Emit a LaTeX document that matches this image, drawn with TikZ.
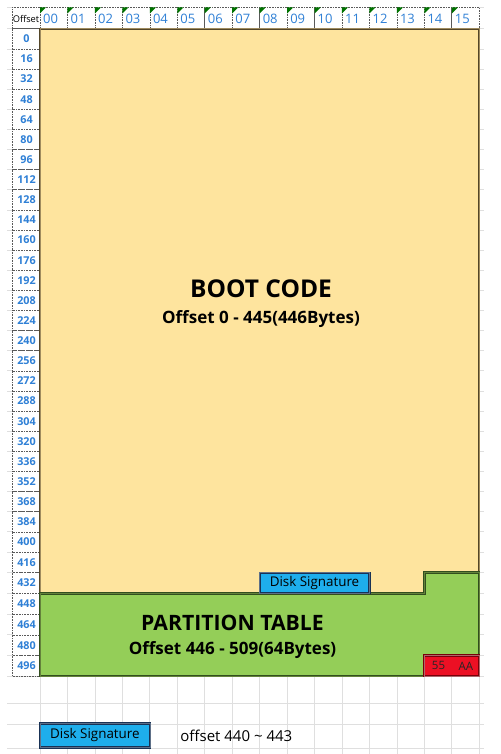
\documentclass[tikz,border=0pt]{standalone}
\usepackage{fontspec}
\IfFontExistsTF{Noto Sans Bold}
    {\setmainfont{Noto Sans}[BoldFont={Noto Sans Bold}]}
    {\IfFontExistsTF{Open Sans Bold}
        {\setmainfont{Open Sans}[BoldFont={Open Sans Bold}]}
        {\setmainfont{Noto Sans}[BoldFont={Noto Sans}, BoldFeatures={FakeBold=2.5}]}}
\usepackage{xcolor}
\usetikzlibrary{positioning}

\definecolor{hdrblue}{RGB}{47,128,214}
\definecolor{bootyellow}{RGB}{254,228,158}
\definecolor{bootedge}{RGB}{84,70,40}
\definecolor{bootmid}{RGB}{160,140,95}
\definecolor{ptgreen}{RGB}{148,206,88}
\definecolor{ptedge}{RGB}{50,78,30}
\definecolor{ptmid}{RGB}{100,130,60}
\definecolor{sigblue}{RGB}{30,174,236}
\definecolor{sigedge}{RGB}{25,50,85}
\definecolor{magicred}{RGB}{236,16,36}
\definecolor{magicedge}{RGB}{120,0,10}

\begin{document}
\begin{tikzpicture}[x=1pt, y=-1pt,
        declare function={cx(\c)=40+27.45*\c; ry(\r)=(\r<27) ? 28.8+20.12*\r : 551.9+20.73*(\r-26);},
        gridline/.style={draw=gray!25, line width=0.7pt},
        cellbox/.style={draw=black!65, densely dotted, line width=0.6pt, fill=white},
        flagtri/.style={fill=green!45!black},
        colnum/.style={font=\fontsize{13}{13}\selectfont, text=hdrblue, anchor=west, inner sep=0pt},
        rownum/.style={font=\fontsize{10.8}{11}\selectfont\bfseries, text=hdrblue, inner sep=0pt},
        bootarea/.style={fill=bootyellow, draw=bootedge, double=bootmid, double distance=0.8pt, line width=0.8pt},
        ptarea/.style={fill=ptgreen, draw=ptedge, double=ptmid, double distance=0.8pt, line width=0.8pt},
        sigbox/.style={rectangle, fill=sigblue, draw=sigedge, double=sigedge!70, double distance=0.6pt, line width=0.8pt,
            minimum width=109.8pt, inner sep=0pt, font=\fontsize{13.4}{14}\selectfont},
        magicbox/.style={rectangle, fill=magicred, draw=magicedge, double=magicedge!60, double distance=0.6pt, line width=0.8pt,
            minimum width=54.9pt, minimum height=20.7pt, inner sep=0pt},
        magictext/.style={inner sep=0pt, font=\fontsize{11.5}{12}\selectfont, text=black!85},
        bigtitle/.style={font=\fontsize{24.5}{25}\selectfont\bfseries, inner sep=0pt},
        subtitle/.style={font=\fontsize{17}{18}\selectfont\bfseries, inner sep=0pt}
    ]
    \useasboundingbox[fill=white] (0,0) rectangle (500,754);

    % Sheet grid
    \foreach \r in {0,...,32} {
        \draw[gridline] (7,{ry(\r)}) -- (484,{ry(\r)});
    }
    \foreach \yy in {7.5,703,724,748} {
        \draw[gridline] (7,\yy) -- (484,\yy);
    }
    \foreach \c in {0,...,16} {
        \draw[gridline] ({cx(\c)},676) -- ({cx(\c)},754);
    }

    % Header row
    \draw[cellbox] (12.5,7.5) rectangle (40,28.8);
    \node[inner sep=0pt, font=\fontsize{9.3}{10}\selectfont] (hoff) at (26,18.5) {Offset};
    \foreach \c in {0,...,15} {
        \draw[cellbox] ({cx(\c)},7.5) rectangle ({cx(\c+1)},28.8);
        \fill[flagtri] ({cx(\c)},7.5) -- ++(6,0) -- ++(-6,6) -- cycle;
        \node[colnum] (h\c) at ({cx(\c)+3},19) {\ifnum\c<10 0\fi\c};
    }

    % Offset column
    \foreach \r in {0,...,31} {
        \pgfmathtruncatemacro\off{16*\r}
        \draw[cellbox] (12.5,{ry(\r)}) rectangle (40,{ry(\r+1)});
        \node[rownum] (r\r) at (26.5,{(ry(\r)+ry(\r+1))/2}) {\off};
    }

    % Boot code area
    \draw[bootarea] ({cx(0)},{ry(0)}) -- ({cx(16)},{ry(0)}) -- ({cx(16)},{ry(27)})
        -- ({cx(14)},{ry(27)}) -- ({cx(14)},{ry(28)}) -- ({cx(0)},{ry(28)}) -- cycle;
    \node[bigtitle] (boot) at (261,289) {BOOT CODE};
    \node[subtitle] (bootoff) at (261,319) {Offset 0 - 445(446Bytes)};

    % Partition table area
    \draw[ptarea] ({cx(0)},{ry(28)}) -- ({cx(14)},{ry(28)}) -- ({cx(14)},{ry(27)})
        -- ({cx(16)},{ry(27)}) -- ({cx(16)},{ry(32)}) -- ({cx(0)},{ry(32)}) -- cycle;
    \node[bigtitle, font=\fontsize{21.2}{22}\selectfont\bfseries] (ptab) at (232.5,622.5) {PARTITION TABLE};
    \node[subtitle] (ptaboff) at (232.5,650) {Offset 446 - 509(64Bytes)};

    % Disk signature and boot signature
    \node[sigbox, minimum height=20.7pt] (dsig) at ({(cx(8)+cx(12))/2},{(ry(27)+ry(28))/2}) {Disk Signature};
    \node[magicbox] (magic) at ({(cx(14)+cx(16))/2},{(ry(31)+ry(32))/2}) {};
    \node[magictext] (m55) at ({cx(14)+14.2},{(ry(31)+ry(32))/2}) {55};
    \node[magictext] (mAA) at ({cx(15)+14.2},{(ry(31)+ry(32))/2}) {AA};

    % Legend
    \node[sigbox, minimum height=24pt] (legsig) at ({(cx(0)+cx(4))/2},735.5) {Disk Signature};
    \node[inner sep=0pt, anchor=west, font=\fontsize{15}{16}\selectfont, right=30pt of legsig] (legtxt) {offset 440 \textasciitilde{} 443};
\end{tikzpicture}
\end{document}
